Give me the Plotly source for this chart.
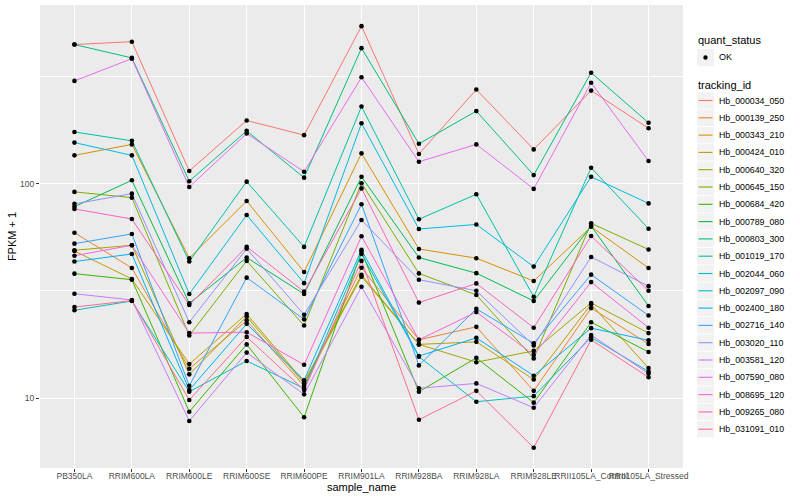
import plotly.graph_objects as go

samples = ["PB350LA", "RRIM600LA", "RRIM600LE", "RRIM600SE", "RRIM600PE",
           "RRIM901LA", "RRIM928BA", "RRIM928LA", "RRIM928LE",
           "RRII105LA_Control", "RRII105LA_Stressed"]

tracking_ids = ["Hb_000034_050", "Hb_000139_250", "Hb_000343_210", "Hb_000424_010",
                "Hb_000640_320", "Hb_000645_150", "Hb_000684_420", "Hb_000789_080",
                "Hb_000803_300", "Hb_001019_170", "Hb_002044_060", "Hb_002097_090",
                "Hb_002400_180", "Hb_002716_140", "Hb_003020_110", "Hb_003581_120",
                "Hb_007590_080", "Hb_008695_120", "Hb_009265_080", "Hb_031091_010"]

# FPKM + 1 per sample (same order as samples)
hb_000034_050 = [448, 462, 115, 198, 169, 546, 138, 276, 145, 273, 182]
hb_000139_250 = [59.2, 40.5, 13.7, 23.0, 11.4, 40.6, 18.7, 21.5, 10.8, 26.3, 17.9]
hb_000343_210 = [136, 153, 45.0, 83.3, 38.8, 139, 49.7, 45.0, 35.2, 63.1, 40.5]
hb_000424_010 = [48.6, 36.0, 14.4, 24.7, 11.9, 37.6, 17.8, 18.3, 12.2, 27.4, 13.8]
hb_000640_320 = [49.0, 51.7, 12.9, 24.0, 11.7, 36.9, 17.8, 14.7, 16.6, 27.8, 20.1]
hb_000645_150 = [91.8, 86.3, 19.6, 43.7, 21.8, 100.8, 38.2, 30.3, 15.3, 65.5, 49.4]
hb_000684_420 = [38.1, 35.7, 8.63, 17.8, 8.13, 48.3, 10.7, 15.4, 9.51, 22.6, 16.4]
hb_000789_080 = [78.3, 104, 27.7, 45.3, 30.6, 108, 45.3, 38.3, 28.4, 63.6, 26.9]
hb_000803_300 = [448, 388, 103, 177, 107, 431, 154, 219, 110, 331, 193]
hb_001019_170 = [175, 159, 43.4, 102.5, 50.8, 230, 68.4, 89.5, 29.7, 119, 61.8]
hb_002044_060 = [25.7, 28.4, 10.7, 14.9, 11.1, 47.1, 15.6, 9.61, 10.2, 19.2, 13.3]
hb_002097_090 = [156, 136, 30.6, 71.6, 34.4, 192, 61.6, 64.7, 41.1, 108, 81.1]
hb_002400_180 = [43.4, 47.1, 10.9, 22.2, 12.1, 49.2, 15.7, 19.1, 12.7, 21.2, 18.6]
hb_002716_140 = [52.6, 58.4, 11.4, 36.5, 23.3, 80.4, 14.2, 26.1, 18.0, 37.7, 24.3]
hb_003020_110 = [80.7, 90.1, 22.6, 49.8, 24.5, 67.9, 35.7, 31.7, 17.6, 45.6, 33.3]
hb_003581_120 = [30.7, 28.7, 7.81, 16.3, 10.4, 33.1, 11.1, 11.7, 9.01, 19.7, 13.0]
hb_007590_080 = [303, 385, 96.8, 172, 114, 315, 127, 153, 94.8, 297, 128]
hb_008695_120 = [46.2, 51.7, 20.1, 20.3, 14.3, 57.0, 18.7, 25.2, 15.9, 34.8, 21.3]
hb_009265_080 = [76.4, 68.6, 27.2, 50.9, 31.4, 95.3, 27.9, 34.3, 21.3, 57.1, 31.7]
hb_031091_010 = [26.6, 28.5, 9.79, 19.3, 10.9, 43.7, 7.92, 10.8, 5.86, 18.7, 12.5]

series = [hb_000034_050, hb_000139_250, hb_000343_210, hb_000424_010, hb_000640_320,
          hb_000645_150, hb_000684_420, hb_000789_080, hb_000803_300, hb_001019_170,
          hb_002044_060, hb_002097_090, hb_002400_180, hb_002716_140, hb_003020_110,
          hb_003581_120, hb_007590_080, hb_008695_120, hb_009265_080, hb_031091_010]

quant_status = ["OK"]
y_tick_vals = [10, 100]
y_tick_text = ["10", "100"]
y_minor_vals = [3.1623, 31.623, 316.23]

colors = ["#F8766D", "#EA8331", "#D89000", "#C09B00", "#A3A500", "#7CAE00", "#39B600",
          "#00BB4E", "#00BF7D", "#00C1A3", "#00BFC4", "#00BAE0", "#00B0F6", "#35A2FF",
          "#9590FF", "#C77CFF", "#E76BF3", "#FA62DB", "#FF62BC", "#FF6C90"]

W, H = 800, 500
ML, MR, MT, MB = 40, 117, 5, 32
PW, PH = W - ML - MR, H - MT - MB


def px(xp):
    return (xp - ML) / PW


def py(yp):
    return (H - MB - yp) / PH


fig = go.Figure()

for i, (tid, vals) in enumerate(zip(tracking_ids, series)):
    fig.add_trace(go.Scatter(
        x=samples, y=vals, mode="lines", name=tid,
        line=dict(color=colors[i], width=1), showlegend=False, hoverinfo="skip"))

all_x = [s for _ in series for s in samples]
all_y = [v for vals in series for v in vals]
fig.add_trace(go.Scatter(
    x=all_x, y=all_y, mode="markers", name=quant_status[0],
    marker=dict(color="black", size=4.6), showlegend=False))

# hand-drawn ggplot-style legend
shapes = []
annotations = []
annotations.append(dict(x=px(696), y=py(40), xref="paper", yref="paper", text="quant_status",
                        showarrow=False, xanchor="left", yanchor="middle",
                        font=dict(size=11, color="black")))
shapes.append(dict(type="rect", xref="paper", yref="paper", x0=px(697), x1=px(714),
                   y0=py(49), y1=py(66), fillcolor="#F2F2F2", line=dict(width=0), layer="below"))
shapes.append(dict(type="circle", xref="paper", yref="paper", x0=px(703.3), x1=px(707.7),
                   y0=py(55.3), y1=py(59.7), fillcolor="black", line=dict(width=0)))
annotations.append(dict(x=px(717), y=py(57.5), xref="paper", yref="paper", text=quant_status[0],
                        showarrow=False, xanchor="left", yanchor="middle",
                        font=dict(size=9, color="black")))
annotations.append(dict(x=px(696), y=py(85), xref="paper", yref="paper", text="tracking_id",
                        showarrow=False, xanchor="left", yanchor="middle",
                        font=dict(size=11, color="black")))
for i, tid in enumerate(tracking_ids):
    cy = 100.5 + 17.3 * i
    shapes.append(dict(type="rect", xref="paper", yref="paper", x0=px(697), x1=px(714),
                       y0=py(cy - 8.2), y1=py(cy + 8.2), fillcolor="#F2F2F2",
                       line=dict(width=0), layer="below"))
    shapes.append(dict(type="line", xref="paper", yref="paper", x0=px(698.5), x1=px(712.5),
                       y0=py(cy), y1=py(cy), line=dict(color=colors[i], width=1.1)))
    annotations.append(dict(x=px(717), y=py(cy), xref="paper", yref="paper", text=tid,
                            showarrow=False, xanchor="left", yanchor="middle",
                            font=dict(size=8.8, color="black")))

fig.update_layout(
    width=W, height=H,
    paper_bgcolor="white", plot_bgcolor="#EBEBEB",
    font=dict(family="Liberation Sans, Arial, sans-serif", size=9, color="#4D4D4D"),
    margin=dict(l=ML, r=MR, t=MT, b=MB, autoexpand=False),
    showlegend=False, shapes=shapes, annotations=annotations,
)

fig.update_xaxes(
    type="category", categoryorder="array", categoryarray=samples,
    range=[-0.6, len(samples) - 0.4],
    showgrid=True, gridcolor="white", gridwidth=1.1,
    ticks="outside", ticklen=3, tickcolor="#333333", tickangle=0,
    ticklabelstandoff=-3,
    tickfont=dict(size=8.5, color="#4D4D4D"),
    title=dict(text="sample_name", font=dict(size=11, color="black"), standoff=3),
    zeroline=False, showline=False)

fig.update_yaxes(
    type="log", range=[0.673, 2.836],
    tickmode="array", tickvals=y_tick_vals, ticktext=y_tick_text,
    showgrid=True, gridcolor="white", gridwidth=1.1,
    minor=dict(tickmode="array", tickvals=y_minor_vals, showgrid=True,
               gridcolor="white", gridwidth=0.55, ticks=""),
    ticks="outside", ticklen=3, tickcolor="#333333",
    tickfont=dict(size=8.5, color="#4D4D4D"),
    title=dict(text="FPKM + 1", font=dict(size=11, color="black"), standoff=1),
    zeroline=False, showline=False)

fig.write_html("out.html", config={"displayModeBar": False},
               post_script="document.body.style.margin='0px';document.body.style.overflow='hidden';")
